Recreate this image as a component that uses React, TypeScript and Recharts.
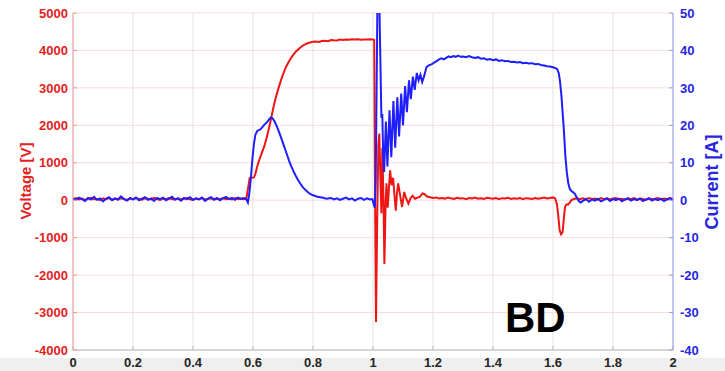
import { LineChart, Line, XAxis, YAxis, CartesianGrid } from 'recharts';

// time axis [s] and tick values
const timeTicks = [0, 0.2, 0.4, 0.6, 0.8, 1, 1.2, 1.4, 1.6, 1.8, 2];
const voltageTicks = [-4000, -3000, -2000, -1000, 0, 1000, 2000, 3000, 4000, 5000];
const currentTicks = [-40, -30, -20, -10, 0, 10, 20, 30, 40, 50];

// [time, voltage V]
const voltageTrace: [number, number][] = [
  [0, 30], [0.01, 55], [0.02, 20], [0.03, 45], [0.04, 10], [0.05, 40], [0.06, 65], [0.07, 25], [0.08, 35], [0.09, 5],
  [0.1, 50], [0.11, 30], [0.12, 60], [0.13, 15], [0.14, 40], [0.15, 20], [0.16, 55], [0.17, 35], [0.18, 10], [0.19, 45],
  [0.2, 25], [0.21, 60], [0.22, 30], [0.23, 15], [0.24, 50], [0.25, 40], [0.26, 20], [0.27, 65], [0.28, 30], [0.29, 10],
  [0.3, 45], [0.31, 25], [0.32, 55], [0.33, 35], [0.34, 15], [0.35, 50], [0.36, 20], [0.37, 40], [0.38, 60], [0.39, 25],
  [0.4, 10], [0.41, 45], [0.42, 30], [0.43, 55], [0.44, 20], [0.45, 35], [0.46, 50], [0.47, 15], [0.48, 40], [0.49, 25],
  [0.5, 60], [0.51, 30], [0.52, 45], [0.53, 20], [0.54, 55], [0.55, 35], [0.56, 40], [0.57, 30], [0.578, 60],
  [0.584, 350], [0.589, 590], [0.596, 600], [0.603, 610], [0.608, 700], [0.614, 900], [0.622, 1100], [0.63, 1280],
  [0.638, 1450], [0.646, 1680], [0.654, 1950], [0.662, 2250], [0.67, 2550], [0.678, 2800], [0.686, 3020], [0.694, 3220],
  [0.702, 3400], [0.71, 3560], [0.718, 3680], [0.726, 3790], [0.734, 3880], [0.744, 3980], [0.755, 4060], [0.766, 4130],
  [0.778, 4180], [0.79, 4210], [0.8, 4230], [0.81, 4240], [0.82, 4225], [0.83, 4250], [0.84, 4260], [0.85, 4245],
  [0.86, 4280], [0.87, 4270], [0.88, 4265], [0.89, 4290], [0.9, 4280], [0.91, 4295], [0.92, 4285], [0.93, 4300],
  [0.94, 4290], [0.95, 4300], [0.96, 4285], [0.97, 4295], [0.98, 4290], [0.99, 4300], [1.0, 4290], [1.004, 4280],
  [1.007, 0], [1.01, -3250], [1.014, -500], [1.018, 1500], [1.021, 1780], [1.025, 500], [1.028, -350], [1.031, 1400],
  [1.035, 0], [1.038, -1700], [1.042, -100], [1.045, 450], [1.049, -200], [1.053, 300], [1.057, 800], [1.062, 400],
  [1.067, 600], [1.072, 100], [1.076, -280], [1.08, 200], [1.084, 450], [1.09, 150], [1.097, -180], [1.104, 220],
  [1.11, 60], [1.118, -90], [1.125, 50], [1.132, 120], [1.14, 40], [1.148, 70], [1.156, 90], [1.165, 180],
  [1.172, 160], [1.18, 100], [1.19, 80], [1.2, 60], [1.21, 75], [1.22, 45],
  [1.23, 60], [1.24, 40], [1.25, 70], [1.26, 50], [1.27, 35], [1.28, 65], [1.29, 45], [1.3, 55], [1.31, 30], [1.32, 60],
  [1.33, 45], [1.34, 70], [1.35, 40], [1.36, 55], [1.37, 35], [1.38, 65], [1.39, 50], [1.4, 40], [1.41, 60], [1.42, 30],
  [1.43, 55], [1.44, 45], [1.45, 65], [1.46, 35], [1.47, 50], [1.48, 40], [1.49, 60], [1.5, 30], [1.51, 55], [1.52, 45],
  [1.53, 35], [1.54, 60], [1.55, 40], [1.56, 55], [1.57, 70], [1.58, 45], [1.59, 60], [1.6, 75], [1.607, 50],
  [1.613, -100], [1.618, -450], [1.622, -800], [1.627, -910], [1.632, -850], [1.636, -500], [1.64, -180], [1.645, -110],
  [1.65, -120], [1.655, -70], [1.66, -10], [1.666, 20], [1.672, 40], [1.68, 55], [1.69, 30], [1.7, 50], [1.71, 20],
  [1.72, 60], [1.73, 35], [1.74, 45], [1.75, 15], [1.76, 55], [1.77, 30], [1.78, 50], [1.79, 20], [1.8, 45], [1.81, 60],
  [1.82, 25], [1.83, 40], [1.84, 15], [1.85, 50], [1.86, 30], [1.87, 55], [1.88, 20], [1.89, 45], [1.9, 35], [1.91, 10],
  [1.92, 50], [1.93, 25], [1.94, 40], [1.95, 60], [1.96, 20], [1.97, 45], [1.98, 30], [1.99, 55], [2.0, 35],
];

// [time, current A]
const currentTrace: [number, number][] = [
  [0, 0.5], [0.01, 0.1], [0.02, 0.7], [0.03, 0.3], [0.04, -0.2], [0.05, 0.6], [0.06, 0.2], [0.07, 0.9], [0.08, 0.1], [0.09, 0.5],
  [0.1, -0.3], [0.11, 0.4], [0.12, 0.8], [0.13, 0.0], [0.14, 0.5], [0.15, 0.2], [0.16, 1.0], [0.17, 0.3], [0.18, -0.1], [0.19, 0.6],
  [0.2, 0.2], [0.21, 0.7], [0.22, 0.0], [0.23, 0.4], [0.24, 0.8], [0.25, 0.1], [0.26, 0.5], [0.27, -0.2], [0.28, 0.6], [0.29, 0.3],
  [0.3, 0.7], [0.31, 0.0], [0.32, 0.4], [0.33, 0.9], [0.34, 0.2], [0.35, 0.5], [0.36, -0.1], [0.37, 0.6], [0.38, 0.3], [0.39, 0.8],
  [0.4, 0.1], [0.41, 0.5], [0.42, 0.2], [0.43, 0.7], [0.44, -0.2], [0.45, 0.4], [0.46, 0.8], [0.47, 0.2], [0.48, 0.6], [0.49, 0.0],
  [0.5, 0.5], [0.51, 0.9], [0.52, 0.3], [0.53, 0.6], [0.54, 0.1], [0.55, 0.7], [0.56, 0.4], [0.57, 0.6], [0.578, 0.2], [0.583, -0.6],
  [0.588, 2], [0.593, 6], [0.598, 11], [0.603, 15], [0.608, 17.5], [0.614, 18.5], [0.62, 18.7], [0.626, 19], [0.632, 19.6],
  [0.638, 20.2], [0.644, 20.6], [0.65, 21.2], [0.656, 21.8], [0.661, 22.1], [0.666, 21.8], [0.672, 21], [0.678, 20],
  [0.684, 18.8], [0.69, 17.5], [0.696, 16.2], [0.702, 14.8], [0.708, 13.4], [0.714, 12], [0.72, 10.6], [0.727, 9.2],
  [0.734, 7.9], [0.742, 6.6], [0.75, 5.4], [0.758, 4.4], [0.766, 3.5], [0.775, 2.7], [0.785, 2.0], [0.795, 1.5],
  [0.805, 1.2], [0.815, 0.9], [0.83, 0.7], [0.845, 0.4], [0.86, 0.6], [0.87, 0.2], [0.88, 0.5], [0.89, 0.1], [0.9, 0.4],
  [0.91, 0.7], [0.92, 0.2], [0.93, 0.5], [0.94, -0.1], [0.95, 0.4], [0.96, 0.6], [0.97, 0.1], [0.98, 0.5], [0.99, 0.2],
  [0.998, 0.3], [1.002, -1], [1.006, -2], [1.009, 5], [1.012, 30], [1.015, 55], [1.02, 58], [1.024, 40], [1.028, 22],
  [1.031, 23], [1.034, 12], [1.037, 7.5], [1.043, 21], [1.048, 9], [1.055, 24], [1.061, 11.5], [1.068, 26.5],
  [1.074, 14], [1.081, 27.5], [1.087, 17], [1.094, 28.5], [1.1, 20], [1.107, 30.5], [1.113, 23.5], [1.12, 32],
  [1.126, 27], [1.133, 33], [1.139, 29.5], [1.146, 34], [1.152, 32], [1.158, 33.5], [1.164, 31.6], [1.17, 33],
  [1.178, 35.5], [1.186, 36], [1.195, 36.3], [1.205, 36.8],
  [1.213, 37.2], [1.22, 37.6], [1.228, 37.9], [1.236, 37.6], [1.244, 38], [1.252, 38.4], [1.26, 38.2], [1.268, 38.5],
  [1.276, 38.3], [1.284, 38.6], [1.292, 38.3], [1.3, 38.4], [1.31, 38.2], [1.32, 38.5], [1.33, 38.2], [1.34, 38.0],
  [1.35, 38.2], [1.36, 37.8], [1.37, 37.9], [1.38, 37.5], [1.39, 37.7], [1.4, 37.4], [1.41, 37.6], [1.42, 37.2],
  [1.43, 37.4], [1.44, 37.1], [1.45, 37.2], [1.46, 36.9], [1.47, 37.0], [1.48, 36.8], [1.49, 36.9], [1.5, 36.6],
  [1.51, 36.7], [1.52, 36.5], [1.53, 36.6], [1.54, 36.3], [1.55, 36.4], [1.56, 36.1], [1.57, 36.0], [1.58, 35.8],
  [1.59, 35.7], [1.6, 35.5], [1.608, 35.3], [1.614, 35.0], [1.619, 34.0], [1.623, 32], [1.628, 28], [1.632, 23.5],
  [1.636, 19], [1.641, 12], [1.646, 7.5], [1.651, 4.5], [1.656, 3], [1.662, 2.4], [1.668, 2.1], [1.674, 1.6],
  [1.68, 0.6], [1.686, -0.2], [1.692, -0.6], [1.7, -0.2], [1.71, 0.3], [1.72, -0.4], [1.73, 0.2], [1.74, -0.1],
  [1.75, 0.4], [1.76, -0.3], [1.77, 0.1], [1.78, 0.5], [1.79, -0.2], [1.8, 0.3], [1.81, 0.0], [1.82, 0.4], [1.83, -0.3],
  [1.84, 0.2], [1.85, 0.5], [1.86, -0.1], [1.87, 0.3], [1.88, 0.0], [1.89, 0.4], [1.9, -0.2], [1.91, 0.2], [1.92, 0.5],
  [1.93, -0.1], [1.94, 0.3], [1.95, 0.0], [1.96, 0.4], [1.97, -0.2], [1.98, 0.2], [1.99, 0.5], [2.0, 0.1],
];

const voltageData = voltageTrace.map(([t, v]) => ({ t, v }));
const currentData = currentTrace.map(([t, a]) => ({ t, a }));

const font = '"Liberation Sans", Arial, Helvetica, sans-serif';

const App = () => {
  return (
    <div style={{ position: 'absolute', left: 0, top: 0, width: 725, height: 371, background: '#fff', fontFamily: font, overflow: 'hidden' }}>
      <div style={{ position: 'absolute', left: 0, top: 358, width: 725, height: 13, background: '#efefef' }} />
      <div style={{ position: 'absolute', left: 0, top: 0 }}>
        <LineChart width={725} height={371} margin={{ top: 13, right: 0, bottom: 0, left: 0 }}>
          <CartesianGrid yAxisId="left" horizontal={false} stroke="#e3e3e3" />
          <CartesianGrid yAxisId="left" vertical={false} stroke="#f8dcdc" />
          <XAxis
            dataKey="t"
            type="number"
            domain={[0, 2]}
            ticks={timeTicks}
            interval={0}
            height={21}
            stroke="#b8b8b8"
            tickSize={-4}
            tickMargin={12}
            tick={{ fill: '#262626', fontSize: 13, fontWeight: 700, fontFamily: font }}
          />
          <XAxis
            xAxisId="top"
            orientation="top"
            type="number"
            domain={[0, 2]}
            ticks={timeTicks}
            interval={0}
            height={0}
            stroke="#b8b8b8"
            tickSize={-4}
            tick={false}
          />
          <YAxis
            yAxisId="left"
            domain={[-4000, 5000]}
            ticks={voltageTicks}
            interval={0}
            width={73}
            stroke="#f29a9a"
            tickSize={-4}
            tickMargin={9}
            tick={{ fill: '#e32222', fontSize: 13, fontWeight: 700, fontFamily: font }}
          />
          <YAxis
            yAxisId="right"
            orientation="right"
            domain={[-40, 50]}
            ticks={currentTicks}
            interval={0}
            width={52}
            allowDataOverflow
            stroke="#9a9af2"
            tickSize={-4}
            tickMargin={11}
            tick={{ fill: '#2626e0', fontSize: 13, fontWeight: 700, fontFamily: font }}
          />
          <Line data={voltageData} dataKey="v" yAxisId="left" type="linear" stroke="#ee1515" strokeWidth={2} dot={false} isAnimationActive={false} />
          <Line data={currentData} dataKey="a" yAxisId="right" type="linear" stroke="#1e1eff" strokeWidth={2} dot={false} isAnimationActive={false} />
        </LineChart>
      </div>
      <div style={{ position: 'absolute', left: 25, top: 181, transform: 'translate(-50%, -50%) rotate(-90deg)', color: '#e32222', fontSize: 15, fontWeight: 700, whiteSpace: 'nowrap' }}>
        Voltage [V]
      </div>
      <div style={{ position: 'absolute', left: 712, top: 182, transform: 'translate(-50%, -50%) rotate(-90deg)', color: '#2626e0', fontSize: 18, fontWeight: 700, whiteSpace: 'nowrap' }}>
        Current [A]
      </div>
      <div style={{ position: 'absolute', left: 505, top: 297, fontSize: 42, lineHeight: '42px', fontWeight: 700, color: '#000' }}>
        BD
      </div>
    </div>
  );
};

export default App;
